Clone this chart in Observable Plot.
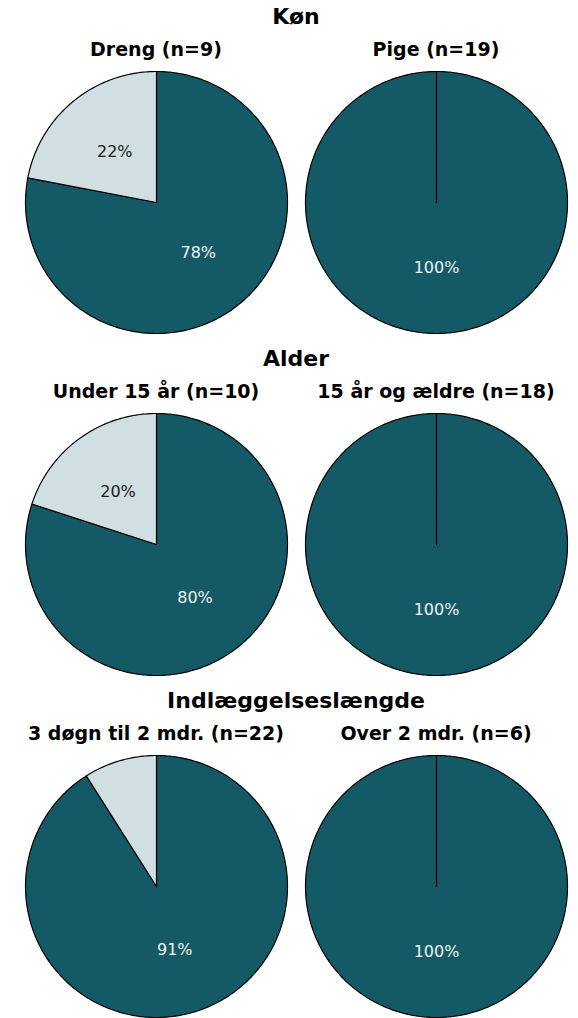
<!DOCTYPE html>
<html>
<head>
<meta charset="utf-8">
<script src="https://cdn.jsdelivr.net/npm/d3@7"></script>
<script src="https://cdn.jsdelivr.net/npm/@observablehq/plot@0.6"></script>
<style>
  html, body { margin: 0; padding: 0; background: #fff; }
  body { width: 578px; height: 1018px; position: relative; overflow: hidden; font-family: "DejaVu Sans", Verdana, sans-serif; }
  .group { position: absolute; left: 16px; width: 560px; height: 342px; }
  .gtitle { position: absolute; top: 4px; left: 0; width: 560px; text-align: center; font-weight: bold; font-size: 22px; color: #000; white-space: nowrap; }
  .pie { position: absolute; top: 0; width: 280px; height: 342px; }
  .ptitle { position: absolute; top: 38px; left: -20px; width: 320px; text-align: center; font-weight: bold; font-size: 19px; color: #000; white-space: nowrap; }
  .pie svg { position: absolute; top: 70px; left: 0; }
</style>
</head>
<body>
<div id="chart"></div>
<script>
// ---- data ----
const groupTitles = ["Køn", "Alder", "Indlæggelseslængde"];
const pieGroup = [0, 0, 1, 1, 2, 2];
const pieTitles = ["Dreng (n=9)", "Pige (n=19)", "Under 15 år (n=10)", "15 år og ældre (n=18)", "3 døgn til 2 mdr. (n=22)", "Over 2 mdr. (n=6)"];
const categories = ["Andel 1", "Andel 2"];
const share1 = [78, 100, 80, 100, 91, 100];
const share2 = [22, 0, 20, 0, 9, 0];
const colors = ["#135A66", "#D0DFE1"];
const labelColors = ["#EEF2F3", "#1a1a1a"];

function piePlot(values) {
  const total = d3.sum(values);
  let acc = 0;
  const pts = [], labels = [];
  values.forEach((v, i) => {
    if (v <= 0) return;
    const a0 = acc / total * 2 * Math.PI;
    const a1 = (acc + v) / total * 2 * Math.PI;
    acc += v;
    const n = Math.max(2, Math.ceil((a1 - a0) / (2 * Math.PI) * 360));
    pts.push({k: i, cat: categories[i], x: 0, y: 0});
    for (let j = 0; j <= n; j++) {
      const a = a0 + (a1 - a0) * j / n;
      pts.push({k: i, cat: categories[i], x: Math.sin(a), y: Math.cos(a)});
    }
    pts.push({k: i, cat: categories[i], x: 0, y: 0});
    const m = (a0 + a1) / 2;
    labels.push({i, cat: categories[i], v, text: Math.round(v / total * 100) + "%", x: 0.5 * Math.sin(m), y: 0.5 * Math.cos(m)});
  });
  const shown = labels.filter(d => d.v / total >= 0.1);
  return Plot.plot({
    width: 280, height: 264,
    marginLeft: 9, marginRight: 9, marginTop: 1, marginBottom: 1,
    x: {domain: [-1, 1], axis: null},
    y: {domain: [-1, 1], axis: null},
    color: {domain: categories, range: colors},
    style: {fontFamily: "DejaVu Sans, Verdana, sans-serif", background: "transparent", overflow: "visible"},
    marks: [
      Plot.line(pts, {x: "x", y: "y", z: "k", fill: "cat", stroke: "#000", strokeWidth: 1.2, curve: "linear", strokeLinejoin: "round"}),
      Plot.text(shown.filter(d => d.i === 0), {x: "x", y: "y", text: "text", fill: labelColors[0], fontSize: 16}),
      Plot.text(shown.filter(d => d.i === 1), {x: "x", y: "y", text: "text", fill: labelColors[1], fontSize: 16})
    ]
  });
}

const root = document.getElementById("chart");
groupTitles.forEach((gt, g) => {
  const gdiv = document.createElement("div");
  gdiv.className = "group";
  gdiv.style.top = (g * 342) + "px";
  const t = document.createElement("div");
  t.className = "gtitle";
  t.textContent = gt;
  gdiv.appendChild(t);
  let col = 0;
  pieTitles.forEach((pt, p) => {
    if (pieGroup[p] !== g) return;
    const pdiv = document.createElement("div");
    pdiv.className = "pie";
    pdiv.style.left = (col * 280) + "px";
    const st = document.createElement("div");
    st.className = "ptitle";
    st.textContent = pt;
    pdiv.appendChild(st);
    pdiv.appendChild(piePlot([share1[p], share2[p]]));
    gdiv.appendChild(pdiv);
    col++;
  });
  root.appendChild(gdiv);
});
</script>
</body>
</html>
